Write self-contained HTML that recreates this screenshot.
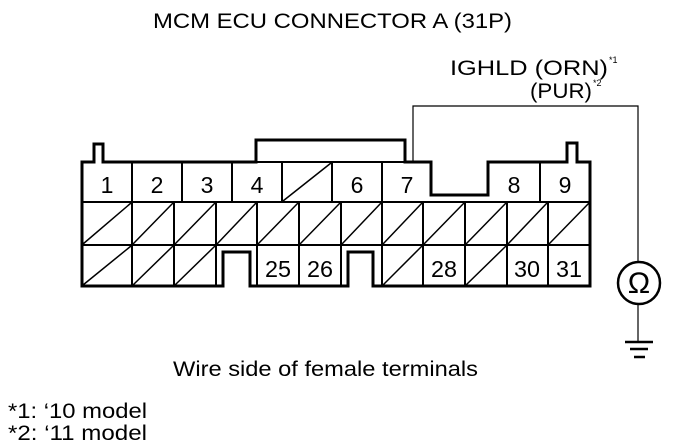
<!DOCTYPE html>
<html><head><meta charset="utf-8"><style>
html,body{margin:0;padding:0;background:#fff;}
svg{display:block;}
text{font-family:"Liberation Sans",sans-serif;fill:#000;}
</style></head><body>
<svg width="688" height="448" viewBox="0 0 688 448" xmlns="http://www.w3.org/2000/svg">
<text x="153" y="28" font-size="21" textLength="359" lengthAdjust="spacingAndGlyphs">MCM ECU CONNECTOR A (31P)</text>
<text x="450" y="75" font-size="21" textLength="158" lengthAdjust="spacingAndGlyphs">IGHLD (ORN)</text>
<text x="609" y="63" font-size="9">*1</text>
<text x="530" y="98" font-size="21" textLength="62" lengthAdjust="spacingAndGlyphs">(PUR)</text>
<text x="593" y="86" font-size="9">*2</text>

<!-- wire -->
<polyline points="413,162 413,106 638,106 638,261" fill="none" stroke="#000" stroke-width="1.2"/>
<line x1="638" y1="305" x2="638" y2="342" stroke="#000" stroke-width="1.2"/>
<circle cx="639" cy="283" r="21" fill="none" stroke="#000" stroke-width="2.5"/>
<text x="639" y="293" font-size="30" text-anchor="middle">Ω</text>
<line x1="625" y1="342" x2="653" y2="342" stroke="#000" stroke-width="2.5"/>
<line x1="630" y1="349" x2="648" y2="349" stroke="#000" stroke-width="2.5"/>
<line x1="634" y1="357" x2="645" y2="357" stroke="#000" stroke-width="2.5"/>

<g fill="none" stroke="#000">
<path d="M82,162 H94 V144 H103 V162 H256 V140 H405 V162 H431 V195 H488 V162 H567 V143 H577 V162 H590 V286 H373 V252 H348 V286 H250 V252 H223 V286 H82 Z" stroke-width="3"/>
<line x1="256" y1="162" x2="405" y2="162" stroke-width="2"/>
<line x1="82" y1="202" x2="590" y2="202" stroke-width="2"/>
<line x1="82" y1="245" x2="590" y2="245" stroke-width="2"/>
<g stroke-width="2">
<line x1="132" y1="162" x2="132" y2="202"/><line x1="182" y1="162" x2="182" y2="202"/>
<line x1="232" y1="162" x2="232" y2="202"/><line x1="282" y1="162" x2="282" y2="202"/>
<line x1="332" y1="162" x2="332" y2="202"/><line x1="382" y1="162" x2="382" y2="202"/>
<line x1="540" y1="162" x2="540" y2="202"/>
<line x1="132" y1="202" x2="132" y2="286"/><line x1="174" y1="202" x2="174" y2="286"/>
<line x1="216" y1="202" x2="216" y2="286"/><line x1="257" y1="202" x2="257" y2="286"/>
<line x1="299" y1="202" x2="299" y2="286"/><line x1="341" y1="202" x2="341" y2="286"/>
<line x1="382" y1="202" x2="382" y2="286"/><line x1="423" y1="202" x2="423" y2="286"/>
<line x1="465" y1="202" x2="465" y2="286"/><line x1="507" y1="202" x2="507" y2="286"/>
<line x1="548" y1="202" x2="548" y2="286"/>
</g>
<g stroke-width="1.5">
<line x1="283" y1="201" x2="331" y2="163"/>
<line x1="83" y1="244" x2="131" y2="203"/><line x1="133" y1="244" x2="173" y2="203"/>
<line x1="175" y1="244" x2="215" y2="203"/><line x1="217" y1="244" x2="256" y2="203"/>
<line x1="258" y1="244" x2="298" y2="203"/><line x1="300" y1="244" x2="340" y2="203"/>
<line x1="342" y1="244" x2="381" y2="203"/><line x1="383" y1="244" x2="422" y2="203"/>
<line x1="424" y1="244" x2="464" y2="203"/><line x1="466" y1="244" x2="506" y2="203"/>
<line x1="508" y1="244" x2="547" y2="203"/><line x1="549" y1="244" x2="589" y2="203"/>
<line x1="83" y1="285" x2="131" y2="246"/><line x1="133" y1="285" x2="173" y2="246"/>
<line x1="175" y1="285" x2="215" y2="246"/><line x1="383" y1="285" x2="422" y2="246"/>
<line x1="466" y1="285" x2="506" y2="246"/>
</g>
</g>
<g font-size="23" text-anchor="middle">
<text x="107" y="193">1</text><text x="157" y="193">2</text><text x="207" y="193">3</text>
<text x="257" y="193">4</text><text x="357" y="193">6</text><text x="407" y="193">7</text>
<text x="514" y="193">8</text><text x="565" y="193">9</text>
<text x="278" y="277" textLength="26" lengthAdjust="spacingAndGlyphs">25</text><text x="320" y="277" textLength="26" lengthAdjust="spacingAndGlyphs">26</text><text x="444" y="277" textLength="26" lengthAdjust="spacingAndGlyphs">28</text>
<text x="527" y="277" textLength="26" lengthAdjust="spacingAndGlyphs">30</text><text x="569" y="277" textLength="26" lengthAdjust="spacingAndGlyphs">31</text>
</g>
<text x="173" y="376" font-size="21" textLength="305" lengthAdjust="spacingAndGlyphs">Wire side of female terminals</text>
<text x="8" y="418" font-size="21" textLength="139" lengthAdjust="spacingAndGlyphs">*1: ‘10 model</text>
<text x="8" y="440" font-size="21" textLength="139" lengthAdjust="spacingAndGlyphs">*2: ‘11 model</text>
</svg>
</body></html>
